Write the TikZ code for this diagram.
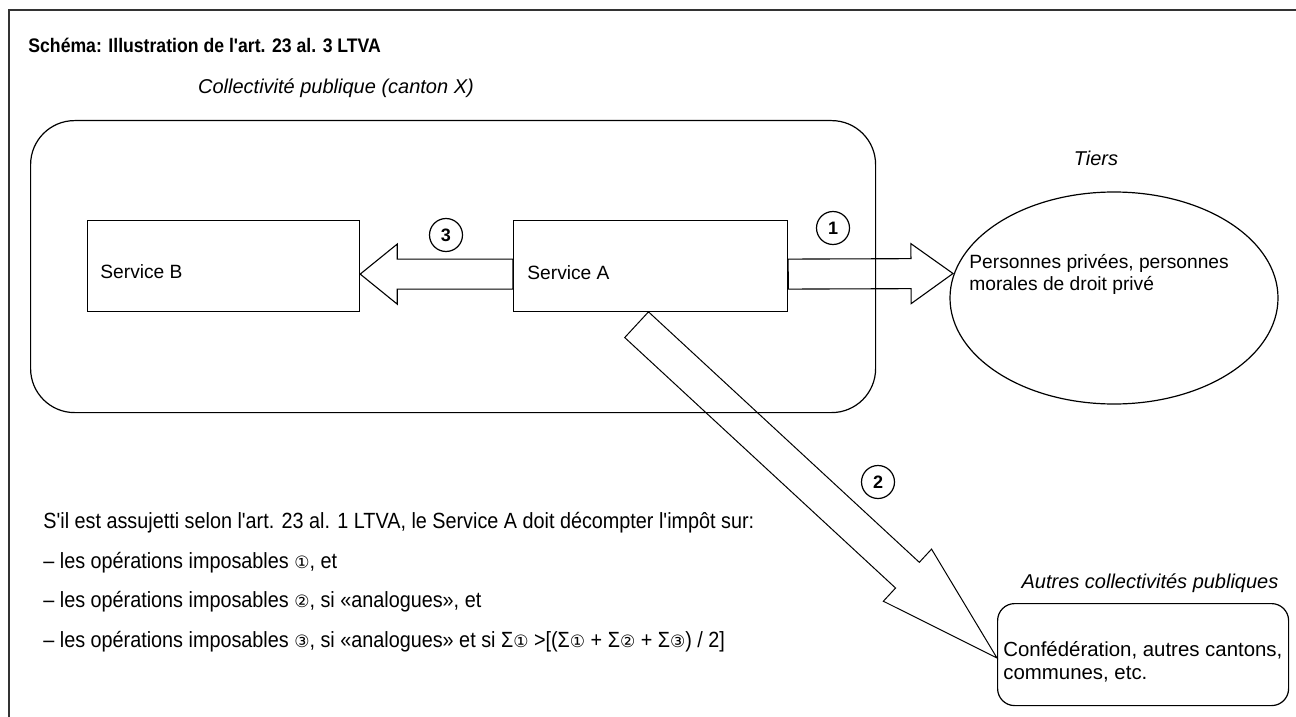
\documentclass[tikz,border=0pt]{standalone}
\usepackage{fontspec}
\setmainfont{Liberation Sans}[Ligatures=TeXOff]
\newfontfamily\condfont{Liberation Sans}[Ligatures=TeXOff, FakeStretch=0.9]
\newfontfamily\dejavu{DejaVu Sans}
\usetikzlibrary{calc,shapes.geometric}
\newcommand\blkarrow[6][]{%
  \path ($(#3)!#6!(#2)$) coordinate (hb);
  \draw[#1] ($(#2)!#4!90:(#3)$) -- ($(hb)!#4!90:(#3)$) -- ($(hb)!#5!90:(#3)$) -- (#3)
     -- ($(hb)!#5!-90:(#3)$) -- ($(hb)!#4!-90:(#3)$) -- ($(#2)!#4!-90:(#3)$) -- cycle;}
\newcommand\cnum[1]{{\dejavu\fontsize{8.5}{10}\selectfont #1}}
\begin{document}
\begin{tikzpicture}[x=0.5pt,y=-0.5pt,
  frame/.style={draw=black!80, line width=1pt},
  boxline/.style={draw, line width=0.6pt},
  arr/.style={line width=0.55pt, line join=miter},
  lbl/.style={inner sep=0, font=\fontsize{9.6}{11}\selectfont},
  ital/.style={inner sep=0, font=\itshape\fontsize{10}{12}\selectfont},
  body/.style={inner sep=0, anchor=base west, font=\condfont\fontsize{11}{13}\selectfont},
  num/.style={draw, circle, line width=0.6pt, minimum size=16.5pt, inner sep=0, font=\bfseries\fontsize{9}{9}\selectfont}]
\useasboundingbox (0,0) rectangle (1296,717);
% frame
\draw[frame] (1296,10) -- (9,10) -- (9,717);
% title
\node[inner sep=0, anchor=base west, font=\condfont\bfseries\fontsize{9.8}{11}\selectfont] (title) at (28,53) {Schéma: Illustration de l'art. 23 al. 3 LTVA};
% container
\node[ital, anchor=base] (colltxt) at (336,94) {Collectivité publique (canton X)};
\node[boxline, rounded corners=22pt, minimum width=422.5pt, minimum height=146pt, anchor=north west] (coll) at (30,120) {};
% services
\node[boxline, minimum width=136pt, minimum height=45.5pt, anchor=north west] (svcB) at (87,220) {};
\node[lbl, anchor=base west] (svcBt) at (100,278) {Service B};
\node[boxline, minimum width=137pt, minimum height=45.5pt, anchor=north west] (svcA) at (513,220) {};
\node[lbl, anchor=base west] (svcAt) at (527,279) {Service A};
% tiers
\node[ital, anchor=base] (tierstxt) at (1096,166) {Tiers};
\node[boxline, ellipse, minimum width=164pt, minimum height=106pt, inner sep=0] (tiers) at (1114,298) {};
\node[lbl, anchor=west, align=left] (tierst) at (969,274) {Personnes privées, personnes\\morales de droit privé};
% autres collectivites
\node[ital, anchor=base] (conftxt) at (1150,588) {Autres collectivités publiques};
\node[boxline, rounded corners=8.5pt, minimum width=145.5pt, minimum height=51pt, anchor=north west] (conf) at (997,603) {};
\node[inner sep=0, anchor=west, align=left, font=\fontsize{10.2}{11.5}\selectfont] (conft) at (1003,662) {Confédération, autres cantons,\\communes, etc.};
% arrows
\coordinate (a3s) at ($(svcA.west)+(0,8)$);
\coordinate (a3t) at ($(svcB.east)+(0,8)$);
\blkarrow[arr]{a3s}{a3t}{7.5pt}{15pt}{18.5pt}
\coordinate (a1s) at ($(svcA.east)+(0,8)$);
\coordinate (a1t) at (953,273.5);
\blkarrow[arr]{a1s}{a1t}{7.5pt}{15pt}{21pt}
\coordinate (a2s) at ($(svcA.south)+(-14,12.5)$);
\coordinate (a2t) at (997,658);
\blkarrow[arr, line width=0.5pt]{a2s}{a2t}{8.75pt}{17.75pt}{61pt}
% numbers
\node[num] (n3) at (446,235) {3};
\node[num] (n1) at (833,228) {1};
\node[num] (n2) at (878,482) {2};
% text
\node[body] (l1) at (43,528) {S'il est assujetti selon l'art. 23 al. 1 LTVA, le Service A doit décompter l'impôt sur:};
\node[body] (l2) at (43,568) {– les opérations imposables \cnum{①}, et};
\node[body] (l3) at (43,607) {– les opérations imposables \cnum{②}, si «analogues», et};
\node[body] (l4) at (43,647) {– les opérations imposables \cnum{③}, si «analogues» et si Σ\cnum{①} >[(Σ\cnum{①} + Σ\cnum{②} + Σ\cnum{③}) / 2]};
\end{tikzpicture}
\end{document}
